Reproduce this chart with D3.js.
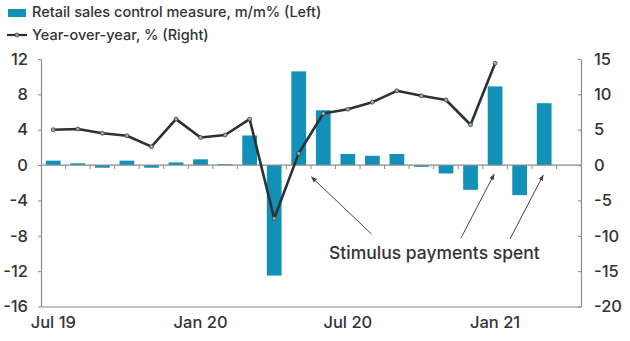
<!DOCTYPE html>
<html><head><meta charset="utf-8">
<script src="https://cdn.jsdelivr.net/npm/d3@7"></script>
<style>
body{margin:0;background:#fff}
text{font-family:Inter,"Open Sans",sans-serif;fill:#333}
</style>
</head><body><svg id="c" width="630" height="341"></svg>
<script>
const months = ["Jul 19","Aug 19","Sep 19","Oct 19","Nov 19","Dec 19","Jan 20","Feb 20","Mar 20","Apr 20","May 20","Jun 20","Jul 20","Aug 20","Sep 20","Oct 20","Nov 20","Dec 20","Jan 21","Feb 21","Mar 21","Apr 21"];
const salesMoM = [0.5,0.2,-0.3,0.5,-0.3,0.3,0.65,0.1,3.35,-12.5,10.6,6.2,1.25,1.05,1.25,-0.2,-0.95,-2.8,8.9,-3.4,7.0,null];
const yoy = [5.0,5.1,4.5,4.15,2.6,6.5,3.9,4.25,6.5,-7.55,1.65,7.3,7.9,8.9,10.5,9.8,9.2,5.7,14.4,null,null,null];
const leftTicks = [12,8,4,0,-4,-8,-12,-16];
const rightTicks = [15,10,5,0,-5,-10,-15,-20];
const xLabels = ["Jul 19","Jan 20","Jul 20","Jan 21"];
const legendLabels = ["Retail sales control measure, m/m% (Left)","Year-over-year, % (Right)"];
const annotationText = "Stimulus payments spent";
const annotationTargets = ["May 20","Jan 21","Mar 21"];

const barColor = "#1190b8", lineColor = "#2b3236", axisColor = "#8a8a8a";
const svg = d3.select("#c");
const L = 41, R = 581, T = 59, B = 306.5;

const x = d3.scaleBand().domain(months).range([L, R]).paddingInner(0.4).paddingOuter(0.2);
const yL = d3.scaleLinear().domain([-16, 12]).range([B, T]);
const yR = d3.scaleLinear().domain([-20, 15]).range([B, T]);
const step = x.step();

// left axis
const gl = svg.append("g").attr("transform", `translate(${L},0)`)
  .call(d3.axisLeft(yL).tickValues(leftTicks).tickSizeInner(3).tickSizeOuter(0).tickPadding(10).tickFormat(d3.format("d")));
// right axis
const gr = svg.append("g").attr("transform", `translate(${R},0)`)
  .call(d3.axisRight(yR).tickValues(rightTicks).tickSizeInner(-3).tickSizeOuter(0).tickPadding(13).tickFormat(d3.format("d")));
// bottom axis
const gb = svg.append("g").attr("transform", `translate(0,${B})`)
  .call(d3.axisBottom(x).tickValues(xLabels).tickSize(0).tickPadding(10));
[gl, gr, gb].forEach(g => {
  g.selectAll("path.domain").attr("stroke", axisColor).attr("stroke-width", 1.2);
  g.selectAll(".tick line").attr("stroke", axisColor);
  g.selectAll("text").attr("font-size", 16.5).attr("font-weight", 500).attr("fill", "#333")
    .style("font-family", "Inter, 'Open Sans', sans-serif");
});
gl.selectAll("text").text(d => d < 0 ? "-" + Math.abs(d) : d);
gr.selectAll("text").text(d => d < 0 ? "-" + Math.abs(d) : d);

// bars
svg.append("g").selectAll("rect").data(months.map((m, i) => ({m, v: salesMoM[i]})).filter(d => d.v !== null))
  .join("rect")
  .attr("x", d => x(d.m)).attr("width", x.bandwidth())
  .attr("y", d => yL(Math.max(0, d.v))).attr("height", d => Math.abs(yL(d.v) - yL(0)))
  .attr("fill", barColor);

// zero line with ticks at band boundaries
const y0 = yL(0);
svg.append("line").attr("x1", L).attr("x2", R).attr("y1", y0).attr("y2", y0)
  .attr("stroke", axisColor).attr("stroke-width", 1.2);
svg.append("g").selectAll("line").data(d3.range(1, months.length))
  .join("line")
  .attr("x1", i => L + i * step).attr("x2", i => L + i * step)
  .attr("y1", y0).attr("y2", y0 + 4)
  .attr("stroke", axisColor);

// line series
const pts = months.map((m, i) => ({m, v: yoy[i]})).filter(d => d.v !== null);
const cx = d => x(d.m) + x.bandwidth() / 2;
svg.append("path").datum(pts)
  .attr("d", d3.line().x(cx).y(d => yR(d.v)))
  .attr("fill", "none").attr("stroke", lineColor).attr("stroke-width", 2.6).attr("stroke-linejoin", "round");
svg.append("g").selectAll("circle").data(pts).join("circle")
  .attr("cx", cx).attr("cy", d => yR(d.v)).attr("r", 2)
  .attr("fill", "#a3a9ab").attr("stroke", lineColor).attr("stroke-width", 0.7);

// legend
svg.append("rect").attr("x", 8).attr("y", 9).attr("width", 18).attr("height", 8).attr("fill", barColor);
svg.append("text").attr("x", 32).attr("y", 17).attr("font-size", 14.5).attr("font-weight", 500).text(legendLabels[0]);
svg.append("line").attr("x1", 7).attr("x2", 27).attr("y1", 35).attr("y2", 35).attr("stroke", lineColor).attr("stroke-width", 2.2);
svg.append("circle").attr("cx", 17).attr("cy", 35).attr("r", 2).attr("fill", "#a3a9ab").attr("stroke", lineColor).attr("stroke-width", 0.7);
svg.append("text").attr("x", 32).attr("y", 40).attr("font-size", 14.5).attr("font-weight", 500).text(legendLabels[1]);

// annotation
svg.append("defs").append("marker").attr("id", "ah")
  .attr("viewBox", "0 0 10 10").attr("refX", 9).attr("refY", 5)
  .attr("markerWidth", 6).attr("markerHeight", 6).attr("orient", "auto")
  .append("path").attr("d", "M0,1 L10,5 L0,9 Z").attr("fill", "#444");
const arrows = [
  {x1: 371.5, y1: 234, x2: x(annotationTargets[0]) + x.bandwidth() + step * 0.2 + 0.5, y2: yL(-1.35)},
  {x1: 461, y1: 238, x2: x(annotationTargets[1]) + x.bandwidth() / 2 - 1, y2: yL(-1.05)},
  {x1: 510, y1: 239, x2: x(annotationTargets[2]) + x.bandwidth() / 2 - 1, y2: yL(-1.15)}
];
svg.append("g").selectAll("line").data(arrows).join("line")
  .attr("x1", d => d.x1).attr("y1", d => d.y1).attr("x2", d => d.x2).attr("y2", d => d.y2)
  .attr("stroke", "#444").attr("stroke-width", 1).attr("marker-end", "url(#ah)");
svg.append("text").attr("x", 329).attr("y", 259).attr("font-size", 17.5).attr("font-weight", 500).text(annotationText);
</script></body></html>
